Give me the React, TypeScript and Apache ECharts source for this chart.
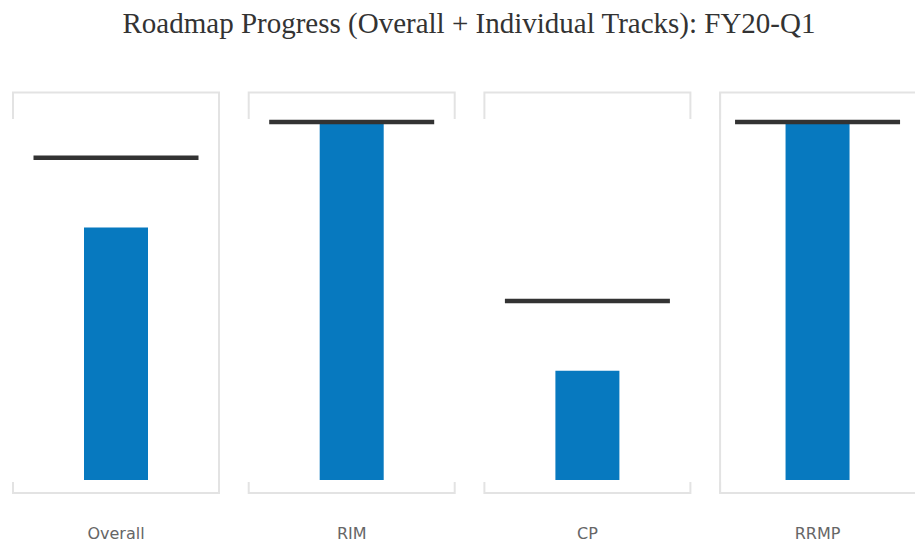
import React, { useEffect, useRef } from "react";
import * as echarts from "echarts";

const TITLE = "Roadmap Progress (Overall + Individual Tracks): FY20-Q1";
const tracks = ["Overall", "RIM", "CP", "RRMP"];
const progress = [70.5, 100, 30.5, 100];
const targets = [90, 100, 50, 100];

const PANEL_LEFT0 = 13;
const PANEL_PITCH = 235.7;
const PANEL_W = 206;
const PLOT_TOP = 122;
const PLOT_H = 358;
const BORDER = "#e3e3e3";

export default function App() {
  const ref = useRef<HTMLDivElement>(null);
  useEffect(() => {
    if (!ref.current) return;
    const chart = echarts.init(ref.current, null, { renderer: "svg" });
    const grids: any[] = [];
    const xAxes: any[] = [];
    const yAxes: any[] = [];
    const series: any[] = [];
    const graphics: any[] = [];
    tracks.forEach((name, i) => {
      const l = PANEL_LEFT0 + i * PANEL_PITCH;
      const r = l + PANEL_W;
      grids.push({ left: l, width: PANEL_W, top: PLOT_TOP, height: PLOT_H });
      xAxes.push({
        type: "category",
        gridIndex: i,
        data: [name],
        axisLine: { show: false },
        axisTick: { show: false },
        axisLabel: {
          margin: 45,
          fontSize: 16,
          color: "#666",
          fontFamily: "DejaVu Sans",
        },
      });
      yAxes.push({
        type: "value",
        gridIndex: i,
        min: 0,
        max: 100,
        show: false,
        splitLine: { show: false },
      });
      series.push({
        type: "bar",
        xAxisIndex: i,
        yAxisIndex: i,
        data: [progress[i]],
        barWidth: 64,
        itemStyle: { color: "#0779bf" },
        z: 2,
      });
      series.push({
        type: "scatter",
        xAxisIndex: i,
        yAxisIndex: i,
        data: [targets[i]],
        symbol: "rect",
        symbolSize: [165, 4.5],
        itemStyle: { color: "#333", opacity: 1 },
        z: 3,
      });
      graphics.push({
        type: "polyline",
        shape: { points: [[l, 119], [l, 92.5], [r, 92.5], [r, 119]] },
        style: { stroke: BORDER, lineWidth: 2, fill: null },
        silent: true,
      });
      graphics.push({
        type: "polyline",
        shape: { points: [[l, 482], [l, 493], [r, 493], [r, 482]] },
        style: { stroke: BORDER, lineWidth: 2, fill: null },
        silent: true,
      });
      if (i === 0) {
        graphics.push({
          type: "line",
          shape: { x1: r, y1: 92.5, x2: r, y2: 493 },
          style: { stroke: BORDER, lineWidth: 2 },
          silent: true,
        });
      }
      if (i === tracks.length - 1) {
        graphics.push({
          type: "line",
          shape: { x1: l, y1: 92.5, x2: l, y2: 493 },
          style: { stroke: BORDER, lineWidth: 2 },
          silent: true,
        });
      }
    });
    graphics.push({
      type: "text",
      x: 469,
      y: 23,
      style: {
        text: TITLE,
        fontFamily: "Liberation Serif",
        fontSize: 29,
        fill: "#333",
        textAlign: "center",
        textVerticalAlign: "middle",
      },
    });
    chart.setOption({
      animation: false,
      backgroundColor: "#fff",
      grid: grids,
      xAxis: xAxes,
      yAxis: yAxes,
      series,
      graphic: graphics,
    });
    return () => chart.dispose();
  }, []);
  return (
    <div
      ref={ref}
      style={{ position: "fixed", left: 0, top: 0, width: 915, height: 543 }}
    />
  );
}
